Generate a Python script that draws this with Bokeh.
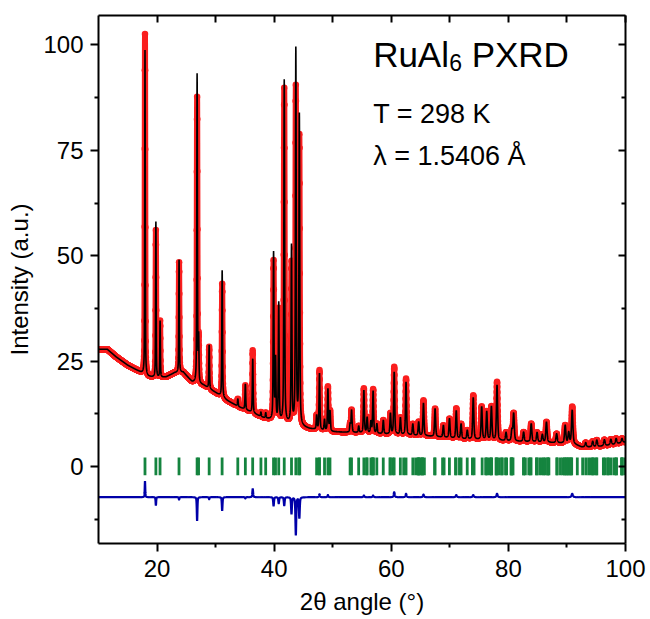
import numpy as np
from bokeh.plotting import figure
from bokeh.models import Range1d, LinearAxis, FixedTicker, Label, CustomJSTickFormatter
from bokeh.embed import file_html
from bokeh.resources import INLINE

# ---------------- data ----------------
# background anchors (2theta, intensity)
bg_x = [10, 11.5, 13, 15, 17, 18.5, 20, 21.5, 23, 24.5, 26, 28, 30, 32, 34, 36, 38, 40,
        42, 44, 46, 50, 54, 60, 66, 72, 80, 86, 91, 92.5, 95, 98, 100]
bg_y = [27.8, 27.8, 26.0, 24.0, 22.5, 21.3, 21.0, 21.2, 22.2, 22.3, 20.0, 19.2, 17.5, 15.6,
        14.1, 12.9, 11.6, 10.8, 10.2, 9.6, 8.9, 8.2, 8.0, 7.6, 7.2, 6.5, 6.0, 5.7, 5.4, 4.6,
        4.6, 5.2, 5.8]

# peaks: position, observed top, calculated top
peak_pos = [17.94, 19.80, 20.52, 23.76, 26.84, 27.10, 28.90, 31.12, 33.80, 35.08, 36.34,
            37.74, 38.56, 39.90, 40.24, 40.78, 41.72, 42.96, 43.70, 44.30, 47.26, 47.74,
            48.60, 49.18, 49.54, 52.98, 53.22, 54.44, 55.32, 55.88, 56.52, 56.90, 57.54,
            58.64, 59.86, 60.50, 61.56, 62.52, 63.68, 64.68, 65.50, 67.48, 68.90, 69.94,
            71.10, 71.92, 72.98, 74.00, 75.44, 76.30, 77.10, 78.06, 79.60, 80.60, 80.90,
            82.60, 83.90, 84.90, 85.80, 86.50, 88.24, 89.70, 90.30, 90.90, 93.20, 94.40,
            95.10, 96.40, 97.50, 98.40, 99.40]
peak_obs = [102.6, 56.0, 34.5, 48.4, 87.4, 30.0, 28.3, 43.3, 16.0, 19.2, 27.5,
            12.8, 12.6, 48.4, 25.0, 37.0, 89.5, 48.0, 89.6, 78.0, 12.0, 22.7,
            11.0, 18.8, 13.0, 10.0, 13.3, 9.5, 18.4, 11.5, 10.5, 18.2, 10.0,
            10.9, 12.5, 23.5, 11.5, 20.8, 10.0, 10.5, 15.6, 13.7, 9.7, 11.3,
            13.7, 10.0, 8.5, 16.8, 14.1, 12.9, 14.1, 20.0, 8.0, 8.5, 12.5,
            8.1, 10.1, 8.0, 7.5, 10.5, 7.7, 9.7, 8.0, 14.1, 5.6, 5.9,
            6.2, 6.3, 6.4, 6.6, 6.6]
peak_calc = [98.8, 58.0, 34.5, 49.0, 93.0, 30.0, 28.8, 46.5, 16.0, 19.5, 25.5,
             12.8, 12.6, 50.5, 25.0, 38.5, 91.5, 52.0, 98.6, 83.0, 12.0, 22.0,
             11.0, 18.3, 13.0, 10.0, 13.3, 9.5, 18.0, 11.5, 10.5, 17.8, 10.0,
             10.9, 12.5, 22.3, 11.5, 20.0, 10.0, 10.5, 15.0, 13.7, 9.7, 11.3,
             13.2, 10.0, 8.5, 16.3, 14.1, 12.9, 14.1, 19.2, 8.0, 8.5, 12.5,
             8.1, 10.1, 8.0, 7.5, 10.5, 7.7, 9.7, 8.0, 13.3, 5.6, 5.9,
             6.2, 6.3, 6.4, 6.6, 6.6]

# Bragg reflection positions (green ticks)
reflections = [17.94, 19.80, 20.51, 23.75, 26.84, 27.09, 28.90, 31.11, 33.79, 35.08, 36.33,
               37.74, 38.55, 39.89, 40.23, 40.78, 41.72, 42.96, 43.70, 44.18, 44.37, 47.25,
               47.72, 47.74, 48.60, 49.18, 49.53, 52.97, 53.21, 54.43, 55.32, 55.77, 55.88,
               56.52, 56.78, 56.89, 56.95, 57.53, 58.63, 59.77, 59.87, 60.30, 60.49, 61.55,
               62.12, 62.52, 63.68, 64.16, 64.57, 64.62, 64.68, 64.86, 65.22, 65.26, 65.34,
               65.65, 67.40, 67.48, 68.76, 69.02, 69.93, 70.97, 71.07, 71.64, 71.92, 72.97,
               73.85, 74.14, 75.52, 76.12, 76.23, 76.47, 76.88, 77.05, 77.14, 77.89, 77.98,
               78.05, 78.47, 78.87, 78.96, 79.51, 79.69, 80.45, 80.51, 80.60, 80.79, 82.58,
               82.63, 82.90, 83.48, 83.75, 83.87, 84.79, 84.88, 85.35, 85.77, 86.04, 86.30,
               86.70, 86.77, 86.92, 88.26, 88.35, 88.89, 89.29, 89.57, 89.71, 89.92, 90.14,
               90.27, 90.54, 90.72, 90.81, 91.77, 92.68, 93.21, 93.70, 94.15, 94.40, 94.55,
               95.00, 95.10, 96.22, 96.49, 96.94, 97.11, 97.56, 98.09, 98.38, 98.47, 99.32,
               99.41, 99.45, 99.93]

diff_offset = -7.3

x_ticks = [20, 40, 60, 80, 100]
x_minor = [30, 50, 70, 90]
y_ticks = [0, 25, 50, 75, 100]
y_minor = [-12.5, 12.5, 37.5, 62.5, 87.5]

# ---------------- profile built from the peak list ----------------
x = np.round(np.arange(10.0, 100.0001, 0.01), 4)
bg = np.interp(x, bg_x, bg_y)


def profile(tops):
    y = bg.copy()
    for p0, h in zip(peak_pos, tops):
        w = 0.09 + 0.0022 * (p0 - 10)
        a = h - np.interp(p0, bg_x, bg_y)
        d = (x - p0) / w
        y += a * (0.5 / (1 + 4 * d * d) + 0.5 * np.exp(-4 * np.log(2) * d * d))
    return y


obs = profile(peak_obs)
calc = profile(peak_calc)
diff = obs - calc + diff_offset

FONT = "Liberation Sans"

p = figure(width=650, height=619, x_range=Range1d(10, 100), y_range=Range1d(-18.3, 107),
           output_backend="svg", toolbar_location=None,
           min_border_left=98, min_border_right=25, min_border_top=15, min_border_bottom=76)
p.outline_line_color = None
p.xgrid.visible = False
p.ygrid.visible = False
p.background_fill_color = "white"
p.border_fill_color = "white"

# observed (red points), calculated (black), reflections (green), difference (blue)
p.line(x, obs, line_color="#fa1e1e", line_width=6)
p.scatter(x[::2], obs[::2], size=6.5, fill_color="#fa1e1e", line_color=None)
p.line(x, calc, line_color="black", line_width=1.6)
p.segment(x0=reflections, y0=-2.1, x1=reflections, y1=2.1, line_color="#15843f", line_width=2.8)
p.line(x, diff, line_color="#0000a8", line_width=2.2)

# axes
for ax in (p.xaxis[0], p.yaxis[0]):
    ax.axis_line_width = 2
    ax.major_tick_line_width = 2
    ax.minor_tick_line_width = 2
    ax.major_tick_out = 8
    ax.major_tick_in = 0
    ax.minor_tick_out = 4
    ax.minor_tick_in = 0
    ax.major_label_text_font = FONT
    ax.major_label_text_font_size = "24px"
    ax.major_label_text_color = "black"
    ax.axis_label_text_font = FONT
    ax.axis_label_text_font_size = "24px"
    ax.axis_label_text_font_style = "normal"
    ax.axis_label_text_color = "black"

p.xaxis.ticker = FixedTicker(ticks=x_ticks, minor_ticks=x_minor)
p.yaxis.ticker = FixedTicker(ticks=y_ticks, minor_ticks=y_minor)
p.xaxis.axis_label = "2θ angle (°)"
p.yaxis.axis_label = "Intensity (a.u.)"
p.xaxis.major_label_standoff = 8
p.xaxis.axis_label_standoff = 8
p.yaxis.major_label_standoff = 7
p.yaxis.axis_label_standoff = 7

empty = CustomJSTickFormatter(code="return ''")
top = LinearAxis(ticker=FixedTicker(ticks=x_ticks + x_minor), formatter=empty,
                 major_tick_in=7, major_tick_out=0, major_label_standoff=0,
                 major_label_text_font_size="0px", axis_line_width=2, major_tick_line_width=2)
right = LinearAxis(ticker=FixedTicker(ticks=y_ticks, minor_ticks=y_minor), formatter=empty,
                   major_tick_in=7, major_tick_out=0, minor_tick_in=4, minor_tick_out=0,
                   major_label_standoff=0, major_label_text_font_size="0px",
                   axis_line_width=2, major_tick_line_width=2, minor_tick_line_width=2)
p.add_layout(top, "above")
p.add_layout(right, "right")

# annotations
lx, ly = 56.9, 97.7
p.add_layout(Label(x=lx, y=ly, text="RuAl", text_font=FONT, text_font_size="35px",
                   text_baseline="alphabetic", text_align="left", text_color="black"))
p.add_layout(Label(x=lx, y=ly, x_offset=76, y_offset=-8, text="6", text_font=FONT,
                   text_font_size="23px", text_baseline="alphabetic", text_align="left",
                   text_color="black"))
p.add_layout(Label(x=lx, y=ly, x_offset=98.5, text="PXRD", text_font=FONT, text_font_size="35px",
                   text_baseline="alphabetic", text_align="left", text_color="black"))
p.add_layout(Label(x=lx, y=83.7, text="T = 298 K", text_font=FONT, text_font_size="27px",
                   text_baseline="alphabetic", text_align="left", text_color="black"))
p.add_layout(Label(x=lx, y=73.7, text="λ = 1.5406 Å", text_font=FONT, text_font_size="27px",
                   text_baseline="alphabetic", text_align="left", text_color="black"))

open("out.html", "w").write(file_html(p, INLINE))
